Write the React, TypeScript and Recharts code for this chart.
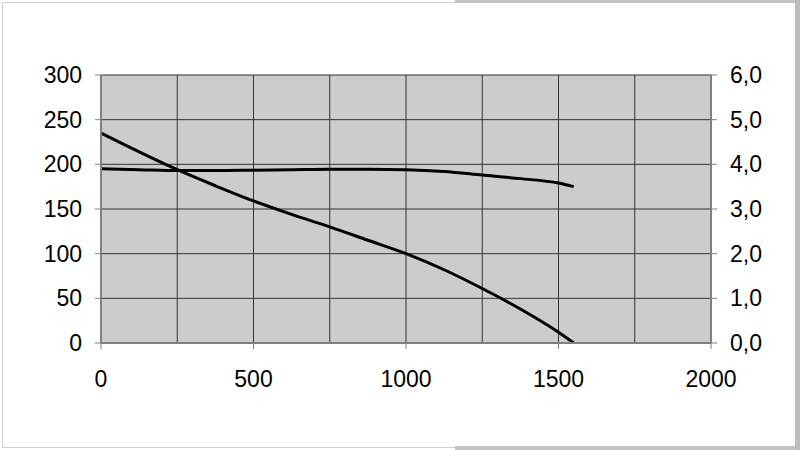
import React from "react";
import { LineChart, Line, XAxis, YAxis, CartesianGrid } from "recharts";

const flow = [0, 125, 250, 375, 500, 625, 750, 875, 1000, 1125, 1250, 1375, 1500, 1550];
const head = [235, 214, 194, 176, 159, 144, 130, 115, 100, 82, 61, 38, 12, 0];
const power = [3.9, 3.88, 3.86, 3.86, 3.87, 3.88, 3.89, 3.89, 3.88, 3.84, 3.76, 3.68, 3.58, 3.5];

const xTicks = [0, 250, 500, 750, 1000, 1250, 1500, 1750, 2000];
const leftTicks = [0, 50, 100, 150, 200, 250, 300];
const rightTicks = [0, 1, 2, 3, 4, 5, 6];

const data = flow.map((q, i) => ({ q, head: head[i], power: power[i] }));

const FONT = "'Liberation Sans', Arial, sans-serif";
const FS = 23;

const XTick = (props: any) => {
  const { x, y, payload } = props;
  const v = payload.value as number;
  if (v % 500 !== 0) return null;
  return (
    <g>
      <line x1={x} x2={x} y1={y - 6} y2={y} stroke="#808080" strokeWidth={1} />
      <text x={x} y={y + 38} textAnchor="middle" fontSize={FS} fontFamily={FONT} fill="#000">
        {String(v)}
      </text>
    </g>
  );
};

export default function App() {
  return (
    <div style={{ position: "absolute", left: 0, top: 0, width: 800, height: 450, background: "#fff" }}>
      <div style={{ position: "absolute", left: 2, top: 2, width: 794, height: 444, border: "1px solid #d0d0d0" }} />
      <div style={{ position: "absolute", left: 455, top: 0, width: 345, height: 3, background: "#c4c4c4" }} />
      <div style={{ position: "absolute", left: 455, top: 446, width: 345, height: 4, background: "#c4c4c4" }} />
      <div style={{ position: "absolute", left: 795, top: 0, width: 5, height: 450, background: "#bdbdbd" }} />
      <div style={{ position: "absolute", left: 0, top: 0 }}>
        <LineChart width={800} height={450} data={data} margin={{ top: 75, right: 0, bottom: 0, left: 0 }}>
          <CartesianGrid stroke="#333333" strokeWidth={1} fill="#cccccc" fillOpacity={1} yAxisId="left" />
          <XAxis
            dataKey="q"
            type="number"
            domain={[0, 2000]}
            ticks={xTicks}
            interval={0}
            height={107}
            tickLine={false}
            tickSize={6}
            tickMargin={0}
            tick={<XTick />}
            axisLine={{ stroke: "#808080", strokeWidth: 2 }}
          />
          <YAxis
            yAxisId="left"
            orientation="left"
            domain={[0, 300]}
            ticks={leftTicks}
            interval={0}
            width={101}
            tickSize={6}
            tickMargin={13}
            tickLine={{ stroke: "#808080" }}
            axisLine={{ stroke: "#808080", strokeWidth: 2 }}
            tick={{ fontSize: FS, fontFamily: FONT, fill: "#000" }}
          />
          <YAxis
            yAxisId="right"
            orientation="right"
            domain={[0, 6]}
            ticks={rightTicks}
            interval={0}
            width={89}
            tickSize={6}
            tickMargin={13}
            tickLine={{ stroke: "#808080" }}
            axisLine={{ stroke: "#808080", strokeWidth: 2 }}
            tickFormatter={(v: number) => v.toFixed(1).replace(".", ",")}
            tick={{ fontSize: FS, fontFamily: FONT, fill: "#000" }}
          />
          <Line
            yAxisId="left"
            dataKey="head"
            type="monotone"
            stroke="#000"
            strokeWidth={3}
            dot={false}
            isAnimationActive={false}
          />
          <Line
            yAxisId="right"
            dataKey="power"
            type="monotone"
            stroke="#000"
            strokeWidth={3}
            dot={false}
            isAnimationActive={false}
          />
        </LineChart>
      </div>
    </div>
  );
}
